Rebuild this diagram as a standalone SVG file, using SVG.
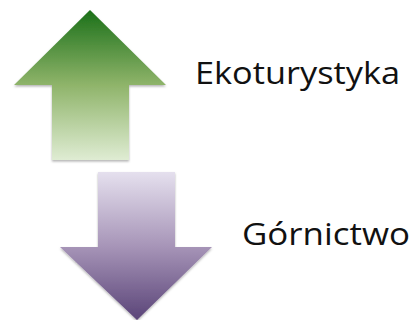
<svg xmlns="http://www.w3.org/2000/svg" width="413" height="320" viewBox="0 0 413 320">
<defs>
<linearGradient id="gGreen" x1="0" y1="10" x2="0" y2="160" gradientUnits="userSpaceOnUse">
<stop offset="0" stop-color="#1b7019"/>
<stop offset="0.5" stop-color="#8fb46a"/>
<stop offset="1" stop-color="#dfecd3"/>
</linearGradient>
<linearGradient id="gPurple" x1="0" y1="172" x2="0" y2="320" gradientUnits="userSpaceOnUse">
<stop offset="0" stop-color="#e5e0ee"/>
<stop offset="0.5" stop-color="#a795b8"/>
<stop offset="1" stop-color="#5a4478"/>
</linearGradient>
<filter id="sh" x="-10%" y="-10%" width="120%" height="120%">
<feDropShadow dx="0" dy="1.5" stdDeviation="1" flood-color="#000" flood-opacity="0.3"/>
</filter>
<style>
.lbl{font-family:"Open Sans","Liberation Sans",sans-serif;font-size:31px;fill:#111;}
</style>
</defs>
<g id="arrow-up">
<polygon points="90,10 166,85 129,85 129,160 52,160 52,85 14,85" fill="url(#gGreen)" filter="url(#sh)"/>
</g>
<g id="arrow-down">
<polygon points="98,172 175,172 175,247 212,247 137,320 60,247 98,247" fill="url(#gPurple)" filter="url(#sh)"/>
</g>
<g id="label-ekoturystyka">
<text class="lbl" x="195" y="84" textLength="205" lengthAdjust="spacingAndGlyphs">Ekoturystyka</text>
</g>
<g id="label-gornictwo">
<text class="lbl" x="242" y="245" textLength="168" lengthAdjust="spacingAndGlyphs">Górnictwo</text>
</g>
<g id="connectors"></g>
</svg>
